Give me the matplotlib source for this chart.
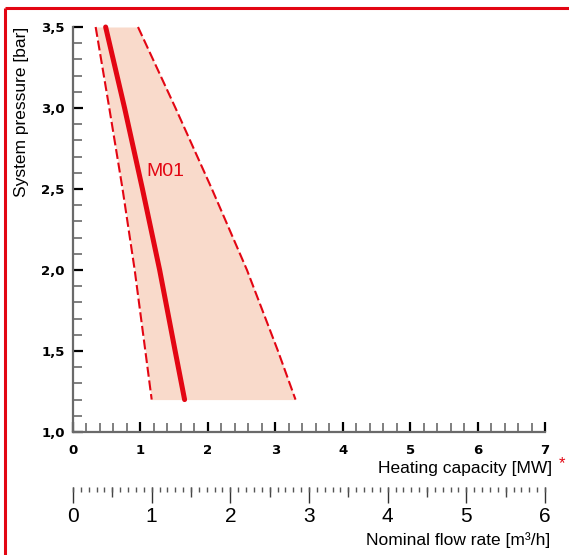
import matplotlib
matplotlib.use("Agg")
import matplotlib.pyplot as plt
from matplotlib.ticker import MultipleLocator, FuncFormatter
from matplotlib.lines import Line2D

RED = '#e30613'
FILL = '#f9dacb'
SANS = ['Liberation Sans', 'DejaVu Sans']

# system pressure [bar] vs heating capacity [MW]
pressure = [3.5, 3.0, 2.5, 2.0, 1.5, 1.2]
m01_capacity = [0.484, 0.765, 1.03, 1.285, 1.515, 1.655]
low_capacity = [0.336, 0.538, 0.735, 0.915, 1.073, 1.167]
high_capacity = [0.964, 1.52, 2.06, 2.58, 3.04, 3.30]

capacity_ticks = [0, 1, 2, 3, 4, 5, 6, 7]
flow_ticks = [0, 1, 2, 3, 4, 5, 6]

W, H = 569, 555
fig = plt.figure(figsize=(W / 100, H / 100), dpi=100)

ax = fig.add_axes([73 / W, 1 - 432 / H, (545 - 73) / W, (432 - 27) / H])
ax.fill_betweenx(pressure, low_capacity, high_capacity, color=FILL, lw=0)
ax.plot(low_capacity, pressure, color=RED, lw=1.5, ls=(0, (4.8, 1.8)), clip_on=False)
ax.plot(high_capacity, pressure, color=RED, lw=1.5, ls=(0, (4.8, 1.8)), clip_on=False)
ax.plot(m01_capacity, pressure, color=RED, lw=3.6, solid_capstyle='round', clip_on=False)
ax.text(1.09, 2.61, 'M01', color=RED, fontsize=14, family=SANS, ha='left', va='center')

ax.set_xlim(0, 7)
ax.set_ylim(1.0, 3.5)
for s in ['top', 'right']:
    ax.spines[s].set_visible(False)
for s in ['left', 'bottom']:
    ax.spines[s].set_color('#6a6a6a')
    ax.spines[s].set_linewidth(1.6)

ax.set_xticks(capacity_ticks)
ax.xaxis.set_minor_locator(MultipleLocator(0.2))
ax.yaxis.set_major_locator(MultipleLocator(0.5))
ax.yaxis.set_minor_locator(MultipleLocator(0.1))
ax.yaxis.set_major_formatter(FuncFormatter(lambda v, p: f'{v:.1f}'.replace('.', ',')))
ax.tick_params(which='both', direction='in', color='#6a6a6a')
ax.tick_params(which='major', length=7.5, width=1.6, color='black')
ax.tick_params(which='minor', length=6.5, width=1.2)
ax.tick_params(axis='x', which='major', pad=8.5)
ax.tick_params(axis='y', which='major', pad=6)
for lab in ax.get_xticklabels() + ax.get_yticklabels():
    lab.set_fontfamily('DejaVu Sans')
    lab.set_fontweight('bold')
    lab.set_fontsize(9.5)

# nominal flow rate scale below the chart
flow = fig.add_axes([73 / W, 1 - 487 / H, (545 - 73) / W, 0.0001])
flow_fine = fig.add_axes([73 / W, 1 - 487 / H, (545 - 73) / W, 0.0001])
for a in (flow, flow_fine):
    a.set_xlim(0, 6)
    a.patch.set_visible(False)
    for s in a.spines.values():
        s.set_visible(False)
    a.set_yticks([])
flow.set_xticks(flow_ticks)
flow.xaxis.set_minor_locator(MultipleLocator(0.5))
flow.tick_params(which='major', direction='out', length=11.5, width=1.0, color='#333333', pad=3)
flow.tick_params(which='minor', direction='out', length=7.2, width=1.0, color='#444444')
for lab in flow.get_xticklabels():
    lab.set_fontfamily(SANS)
    lab.set_fontsize(15)
flow_fine.set_xticks([])
flow_fine.xaxis.set_minor_locator(MultipleLocator(0.1))
flow_fine.tick_params(which='minor', direction='out', length=3.6, width=1.0, color='#555555')

fig.text(22 / W, 1 - 27 / H, 'System pressure [bar]', rotation=90, ha='center', va='top',
         fontsize=12.5, family=SANS)
fig.text(552 / W, 1 - 469 / H, 'Heating capacity [MW]', ha='right', va='center',
         fontsize=12.5, family=SANS)
fig.text(562 / W, 1 - 464 / H, '*', color=RED, ha='center', va='center', fontsize=12, family=SANS)
fig.text(550 / W, 1 - 540 / H, 'Nominal flow rate [m³/h]', ha='right', va='center',
         fontsize=12.5, family=SANS)

# red frame along the top and left edge
fig.add_artist(Line2D([5 / W, 1], [1 - 8 / H, 1 - 8 / H], color=RED, lw=2.2,
                      transform=fig.transFigure, solid_capstyle='butt'))
fig.add_artist(Line2D([5 / W, 5 / W], [0, 1 - 8 / H], color=RED, lw=2.2,
                      transform=fig.transFigure, solid_capstyle='butt'))

fig.savefig('out.png', dpi=100)
